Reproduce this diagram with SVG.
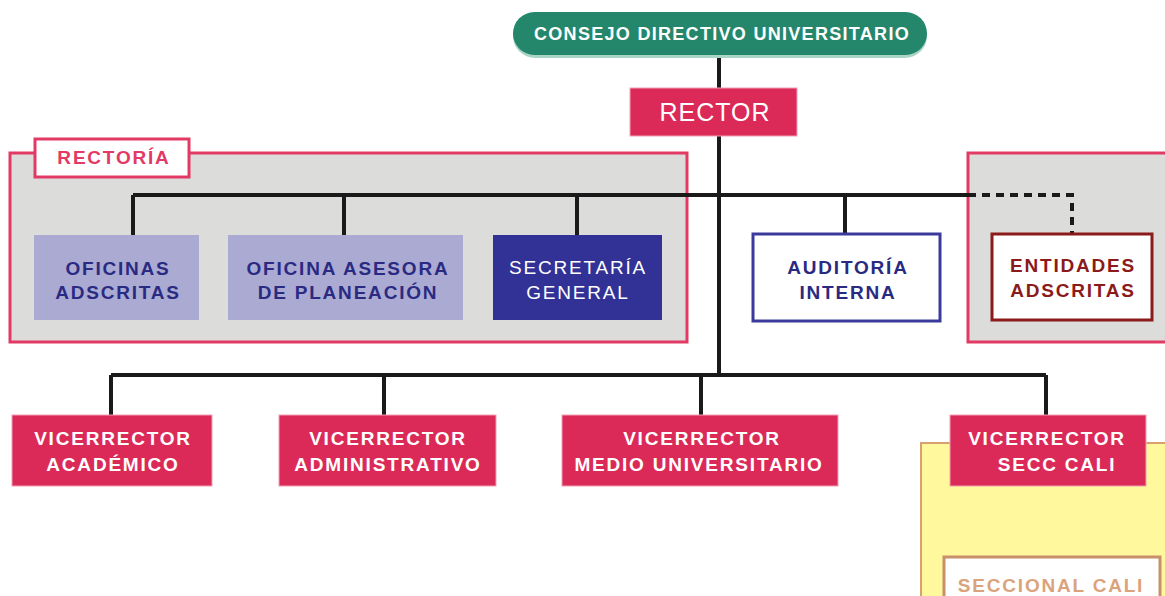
<svg xmlns="http://www.w3.org/2000/svg" width="1165" height="596" viewBox="0 0 1165 596">
<style>
text{font-family:"Liberation Sans",Arial,sans-serif;font-weight:bold;text-anchor:middle;font-size:19px;letter-spacing:1.8px}
.vr rect{fill:#dc2a58;stroke:#f2a0b4;stroke-width:1}
.vr text{fill:#fff}
.grp{fill:#dcdcda;stroke:#e23a64;stroke-width:3}
.ln{stroke:#1a1a1a;stroke-width:4;fill:none}
.lite rect{fill:#aaaad2}
.lite text{fill:#2a2a82}
</style>
<rect width="1165" height="596" fill="#fff"/>
<g id="rectoria-group">
<rect class="grp" x="10" y="153" width="677" height="189"/>
<rect x="35" y="139" width="154" height="38" fill="#fff" stroke="#e23a64" stroke-width="3"/>
<text x="114" y="164" fill="#e23a64">RECTORÍA</text>
</g>
<g id="entidades-group">
<rect class="grp" x="968" y="153" width="200" height="189"/>
</g>
<g id="seccional-group">
<rect x="921" y="443" width="250" height="160" fill="#fff89c" stroke="#d9a070" stroke-width="2"/>
<rect x="944" y="557" width="216" height="45" fill="#fff" stroke="#c8906a" stroke-width="3"/>
<text x="1051" y="592" fill="#dba37c">SECCIONAL CALI</text>
</g>
<g id="connectors">
<path class="ln" d="M719 57V375M133 195H968M133 195V235M344 195V235M577 195V235M845 195V233"/>
<path d="M968 195H1072V233" fill="none" stroke="#1a1a1a" stroke-width="4" stroke-dasharray="8,6"/>
<path class="ln" d="M111 375H1046M111 375V415M384 375V415M701 375V415M1046 375V415"/>
</g>
<g id="consejo">
<rect x="513" y="14" width="414" height="44" rx="22" fill="#a8d5c4"/>
<rect x="513" y="12" width="414" height="43" rx="21.5" fill="#24876b"/>
<text x="722" y="40" fill="#fff" style="font-size:18px;letter-spacing:1.3px">CONSEJO DIRECTIVO  UNIVERSITARIO</text>
</g>
<g id="rector" class="vr">
<rect x="630" y="88" width="167" height="48"/>
<text x="715" y="121" style="font-size:25px;font-weight:normal;letter-spacing:1px">RECTOR</text>
</g>
<g id="oficinas-adscritas" class="lite">
<rect x="34" y="235" width="165" height="85"/>
<text x="118" y="275">OFICINAS</text>
<text x="118" y="299">ADSCRITAS</text>
</g>
<g id="oficina-asesora" class="lite">
<rect x="228" y="235" width="235" height="85"/>
<text x="348" y="275">OFICINA ASESORA</text>
<text x="348" y="299">DE PLANEACIÓN</text>
</g>
<g id="secretaria">
<rect x="493" y="235" width="169" height="85" fill="#323296"/>
<text x="578" y="274" fill="#fff" style="font-weight:normal">SECRETARÍA</text>
<text x="578" y="299" fill="#fff" style="font-weight:normal">GENERAL</text>
</g>
<g id="auditoria">
<rect x="753" y="234" width="187" height="87" fill="#fff" stroke="#3a3a9c" stroke-width="3"/>
<text x="848" y="274" fill="#2a2a82">AUDITORÍA</text>
<text x="848" y="299" fill="#2a2a82">INTERNA</text>
</g>
<g id="entidades">
<rect x="992" y="234" width="160" height="86" fill="#fff" stroke="#8b1a1a" stroke-width="3"/>
<text x="1073" y="272" fill="#8b1a1a">ENTIDADES</text>
<text x="1073" y="297" fill="#8b1a1a">ADSCRITAS</text>
</g>
<g id="vr-academico" class="vr">
<rect x="12" y="415" width="200" height="71"/>
<text x="113" y="445">VICERRECTOR</text>
<text x="113" y="471">ACADÉMICO</text>
</g>
<g id="vr-administrativo" class="vr">
<rect x="279" y="415" width="217" height="71"/>
<text x="388" y="445">VICERRECTOR</text>
<text x="388" y="471">ADMINISTRATIVO</text>
</g>
<g id="vr-medio" class="vr">
<rect x="562" y="415" width="276" height="71"/>
<text x="702" y="445">VICERRECTOR</text>
<text x="699" y="471">MEDIO UNIVERSITARIO</text>
</g>
<g id="vr-cali" class="vr">
<rect x="950" y="415" width="196" height="71"/>
<text x="1047" y="445">VICERRECTOR</text>
<text x="1057" y="471">SECC CALI</text>
</g>
</svg>
